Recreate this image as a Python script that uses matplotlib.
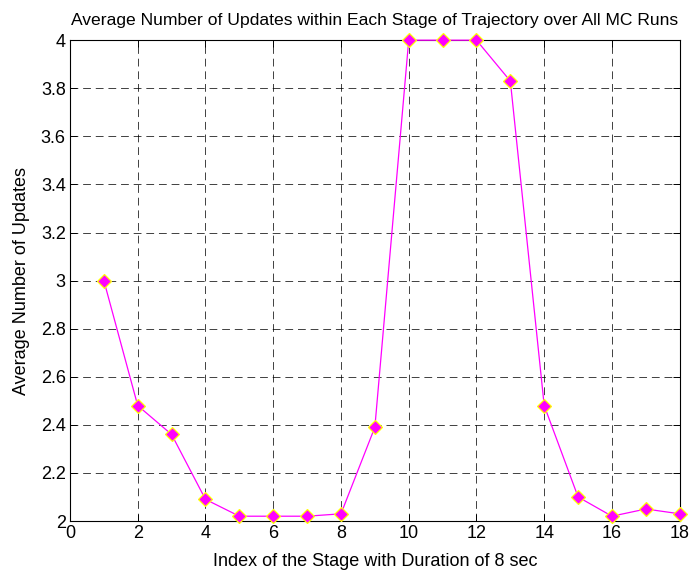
import numpy as np
import matplotlib
matplotlib.use('Agg')
import matplotlib.pyplot as plt

# Data
stage = np.arange(1, 19)
avg_updates = [3.00, 2.48, 2.36, 2.09, 2.02, 2.02, 2.02, 2.03, 2.39,
               4.00, 4.00, 4.00, 3.83, 2.48, 2.10, 2.02, 2.05, 2.03]
x_ticks = np.arange(0, 19, 2)
y_ticks = np.arange(2.0, 4.01, 0.2)
y_tick_labels = ['2', '2.2', '2.4', '2.6', '2.8', '3', '3.2', '3.4', '3.6', '3.8', '4']

plt.rcParams['font.family'] = ['Liberation Sans', 'DejaVu Sans']
plt.rcParams['font.size'] = 13

fig = plt.figure(figsize=(6.95, 5.74), dpi=100)
ax = fig.add_axes([0.1007, 0.0923, 0.8773, 0.8377])

ax.plot(stage, avg_updates, '-', color='#ff00ff', linewidth=0.9,
        marker='D', markersize=7, markerfacecolor='#ff00ff',
        markeredgecolor='#ffff00', markeredgewidth=0.9, clip_on=False, zorder=3)

ax.set_xlim(0, 18)
ax.set_ylim(2, 4)
ax.set_xticks(x_ticks)
ax.set_yticks(y_ticks)
ax.set_yticklabels(y_tick_labels)
ax.grid(True, color='black', linestyle=(0, (8, 5)), linewidth=0.7, alpha=0.75)
ax.tick_params(direction='in', top=True, right=True, length=5, width=0.7, pad=3)
for s in ax.spines.values():
    s.set_linewidth(0.8)

ax.set_title('Average Number of Updates within Each Stage of Trajectory over All MC Runs',
             fontsize=12.6, pad=11)
ax.set_xlabel('Index of the Stage with Duration of 8 sec', labelpad=8)
ax.set_ylabel('Average Number of Updates', labelpad=8)

fig.savefig('out.png', dpi=100)
